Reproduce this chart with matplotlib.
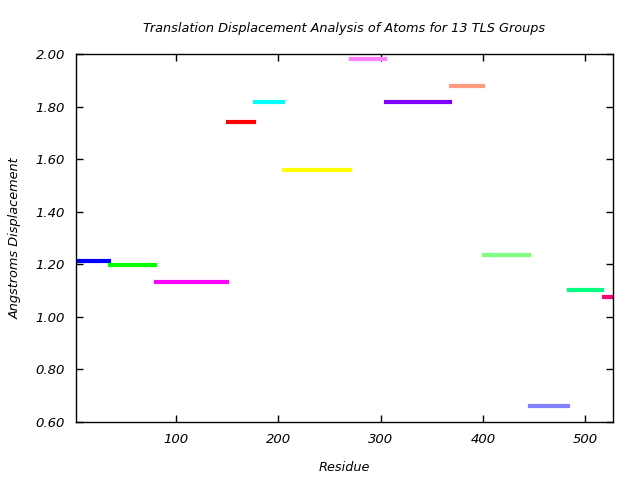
import matplotlib
matplotlib.use('Agg')
import matplotlib.pyplot as plt

# TLS group residue ranges and mean translation displacement
group_start = [2, 35, 80, 151, 177, 205, 271, 305, 369, 401, 446, 484, 518]
group_end = [34, 79, 150, 176, 204, 270, 304, 368, 400, 445, 483, 517, 527]
displacement = [1.212, 1.197, 1.132, 1.741, 1.817, 1.558, 1.981, 1.817,
                1.878, 1.235, 0.660, 1.101, 1.075]
group_colors = ['#0000ff', '#00ff00', '#ff00ff', '#ff0000', '#00ffff', '#ffff00',
                '#ff80ff', '#8000ff', '#ff9980', '#80ff80', '#8080ff', '#00ff80',
                '#ff0080']

x_ticks = [100, 200, 300, 400, 500]
y_ticks = [0.60, 0.80, 1.00, 1.20, 1.40, 1.60, 1.80, 2.00]

plt.rcParams['font.family'] = 'DejaVu Sans'
plt.rcParams['font.style'] = 'italic'

fig = plt.figure(figsize=(6.4, 4.8), dpi=100)
ax = fig.add_axes([0.11875, 0.1208, 0.8386, 0.7661])

for x0, x1, d, c in zip(group_start, group_end, displacement, group_colors):
    ax.plot([x0, x1], [d, d], color=c, linewidth=3, solid_capstyle='projecting')

ax.set_xlim(2, 527)
ax.set_ylim(0.60, 2.00)
ax.set_xticks(x_ticks)
ax.set_yticks(y_ticks)
ax.set_yticklabels(['%.2f' % v for v in y_ticks])
ax.tick_params(direction='in', length=5, width=1, top=True, right=True,
               labelsize=9.5, pad=8)
for s in ax.spines.values():
    s.set_linewidth(1)

ax.set_title('Translation Displacement Analysis of Atoms for 13 TLS Groups',
             fontsize=9.3, pad=16)
ax.set_xlabel('Residue', fontsize=9.3, labelpad=11)
ax.set_ylabel('Angstroms Displacement', fontsize=9.3, labelpad=10)

fig.savefig('out.png', dpi=100)
